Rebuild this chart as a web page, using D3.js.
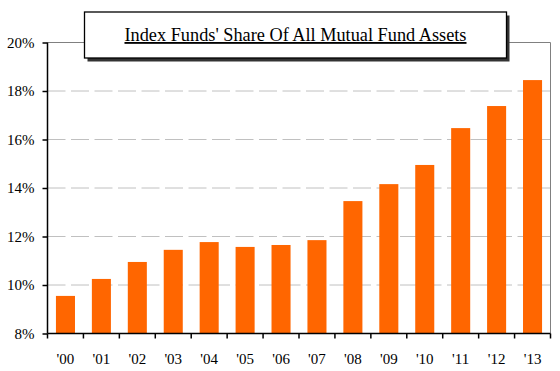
<!DOCTYPE html>
<html><head><meta charset="utf-8">
<script src="https://cdn.jsdelivr.net/npm/d3@7"></script>
<style>html,body{margin:0;padding:0;background:#fff;}svg{display:block;}</style>
</head><body>
<svg id="c" width="560" height="371"></svg>
<script>
const categories = ["'00","'01","'02","'03","'04","'05","'06","'07","'08","'09","'10","'11","'12","'13"];
const shares = [9.55, 10.25, 10.95, 11.45, 11.77, 11.57, 11.65, 11.85, 13.46, 14.16, 14.95, 16.47, 17.38, 18.45];
const yTicks = [8, 10, 12, 14, 16, 18, 20];
const titleText = "Index Funds' Share Of All Mutual Fund Assets";

const svg = d3.select("#c");
const L = 47.5, R = 550.5, T = 42.5, B = 333.5;
const font = "'Liberation Serif','Times New Roman',serif";

const x = d3.scaleBand().domain(categories).range([L, R]).paddingInner(0.47).paddingOuter(0.235);
const y = d3.scaleLinear().domain([8, 20]).range([B, T]);

// gridlines
svg.append("g").selectAll("line").data(yTicks.filter(d => d > 8 && d < 20)).join("line")
  .attr("x1", L).attr("x2", R).attr("y1", d => y(d)).attr("y2", d => y(d))
  .attr("stroke", "#c0c0c0").attr("stroke-width", 1).attr("stroke-dasharray", "18,5.5");

// top and right border
svg.append("path").attr("d", `M${L},${T}H${R}V${B}`).attr("fill", "none").attr("stroke", "#808080").attr("stroke-width", 1);

// bars
svg.append("g").selectAll("rect").data(shares).join("rect")
  .attr("x", (d, i) => x(categories[i]))
  .attr("width", x.bandwidth())
  .attr("y", d => y(d))
  .attr("height", d => B - y(d))
  .attr("fill", "#ff6600");

// y axis
const yAxis = svg.append("g").attr("transform", `translate(${L},0)`)
  .call(d3.axisLeft(y).tickValues(yTicks).tickFormat(d => d + "%").tickSize(5).tickPadding(8));
// x axis
const xTickScale = d3.scaleLinear().domain([0, categories.length]).range([L, R]);
const xAxis = svg.append("g").attr("transform", `translate(0,${B})`)
  .call(d3.axisBottom(x).tickSize(0).tickPadding(20));
xAxis.selectAll("line.bt").data(d3.range(categories.length + 1)).join("line").attr("class", "bt")
  .attr("x1", d => xTickScale(d)).attr("x2", d => xTickScale(d)).attr("y1", 0).attr("y2", 5)
  .attr("stroke", "#000").attr("stroke-width", 1.5);

[yAxis, xAxis].forEach(a => {
  a.attr("font-family", null).attr("font-size", null);
  a.select(".domain").attr("stroke", "#000").attr("stroke-width", 1.5);
  a.selectAll(".tick line").attr("stroke", "#000").attr("stroke-width", 1.5);
  a.selectAll("text").style("font-family", font).style("font-size", "15px").attr("fill", "#000");
});
xAxis.select(".domain").attr("d", `M${L},0H${R}`);
yAxis.select(".domain").attr("d", `M0,${T}V${B}`);

// title box
svg.append("rect").attr("x", 87.5).attr("y", 15.5).attr("width", 422).attr("height", 46).attr("fill", "#333");
svg.append("rect").attr("x", 84.5).attr("y", 12).attr("width", 422).attr("height", 46).attr("fill", "#fff").attr("stroke", "#000").attr("stroke-width", 1.3);
svg.append("text").attr("x", 295.5).attr("y", 41).attr("text-anchor", "middle")
  .style("font-family", font).style("font-size", "18.3px").attr("text-decoration", "underline").attr("fill", "#000")
  .text(titleText);
</script>
</body></html>
